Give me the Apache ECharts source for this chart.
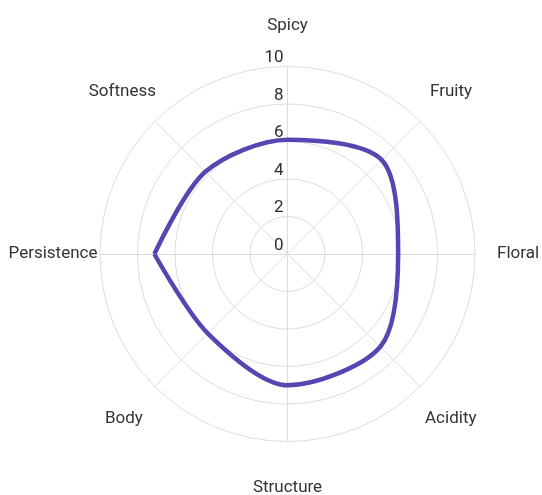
<!DOCTYPE html>
<html>
<head>
<meta charset="utf-8">
<script src="https://cdn.jsdelivr.net/npm/echarts@6/dist/echarts.min.js"></script>
<style>html,body{margin:0;padding:0;background:#fff;}#c{width:542px;height:495px;}</style>
</head>
<body>
<div id="c"></div>
<script>
const indicatorNames = ['Spicy', 'Fruity', 'Floral', 'Acidity', 'Structure', 'Body', 'Persistence', 'Softness'];
const scores = [6.1, 7.1, 5.9, 7.0, 7.0, 6.0, 7.1, 6.2];
const tickMax = 10;
const tickStep = 2;

// per-label layout tweaks (gap from outer ring, padding to shift)
const nameGaps = [32, 14, 22, 7, 38, 17, 2.5, -1.5];
const namePads = [
  [0,0,0,0], [0,0,39,0], [0,0,0,0], [55,0,0,0],
  [0,0,0,0], [41,0,0,0], [0,0,0,0], [0,0,61,0]
];

const FONT = 'Roboto';
const FS = 17;
const TXT = '#333';

const n = indicatorNames.length;
// radar lays indicators counter-clockwise; list them so they appear clockwise
const displayOrder = [];
for (let j = 0; j < n; j++) displayOrder.push((n - j) % n);

const rich = {};
indicatorNames.forEach((name, i) => {
  rich['n' + i] = { padding: namePads[i], fontSize: FS, fontFamily: FONT, color: TXT };
});

const indicators = displayOrder.map((i, j) => {
  const o = { name: indicatorNames[i], idx: i, min: 0, max: tickMax, nameGap: nameGaps[i] };
  if (j === 0) {
    o.axisLabel = { show: true, margin: 4, align: 'right', verticalAlign: 'bottom',
      color: '#2e2e2e', fontSize: FS, fontFamily: FONT };
  }
  return o;
});

// closed path starting from Persistence
const order = [];
for (let k = 0; k <= n; k++) order.push((6 + k) % n);
const lineData = order.map(i => [scores[i], i * 360 / n]);

const chart = echarts.init(document.getElementById('c'), null, { renderer: 'canvas' });
chart.setOption({
  animation: false,
  radar: {
    center: [287.5, 254],
    radius: 187.5,
    shape: 'circle',
    startAngle: 90,
    splitNumber: tickMax / tickStep,
    indicator: indicators,
    axisName: {
      color: TXT, fontSize: FS, fontFamily: FONT,
      formatter: (name, ind) => '{n' + ind.idx + '|' + name + '}',
      rich: rich
    },
    axisLine: { lineStyle: { color: '#dcdcdc', width: 1 } },
    splitLine: { lineStyle: { color: '#dcdcdc', width: 1 } },
    splitArea: { show: false },
    axisTick: { show: false },
    axisLabel: { show: false }
  },
  polar: { center: [287.5, 254], radius: 187.5 },
  angleAxis: { type: 'value', min: 0, max: 360, startAngle: 90, clockwise: true, show: false },
  radiusAxis: { type: 'value', min: 0, max: tickMax, show: false },
  series: [{
    type: 'line',
    coordinateSystem: 'polar',
    data: lineData,
    smooth: 0.3,
    symbol: 'none',
    lineStyle: { color: '#5646b2', width: 4.5, join: 'round' },
    silent: true
  }]
});
</script>
</body>
</html>
